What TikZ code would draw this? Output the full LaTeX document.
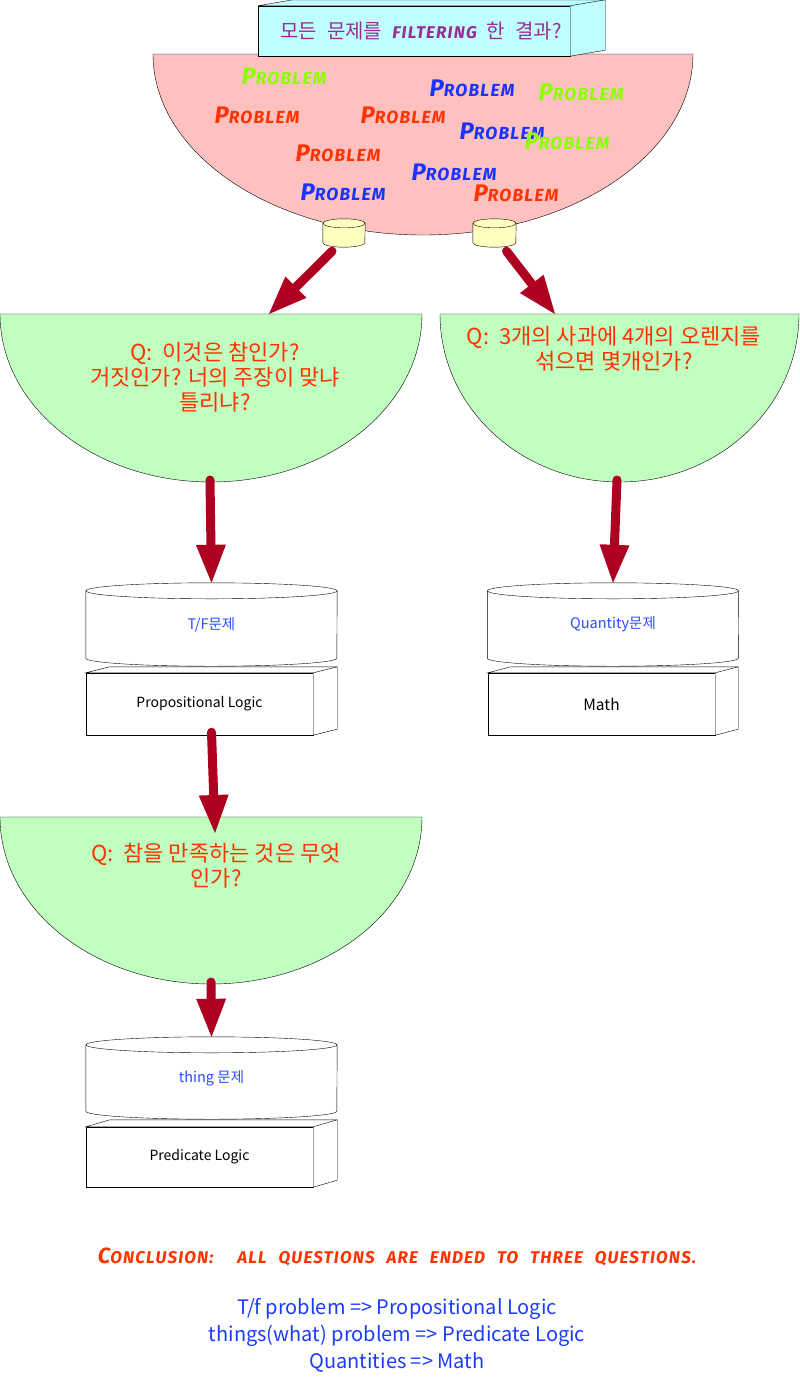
\documentclass[tikz,border=0pt]{standalone}
\usepackage{fontspec}
\setmainfont{Noto Sans CJK KR}
\newfontfamily\comicfont{Fira Sans}[LetterSpace=7]
\usetikzlibrary{calc,arrows.meta,positioning}
\pgfdeclarelayer{bg}
\pgfsetlayers{bg,main}

\definecolor{pinkfill}{HTML}{FFC0C0}
\definecolor{greenfill}{HTML}{C0FFC0}
\definecolor{cyanfill}{HTML}{C0FFFF}
\definecolor{yellowfill}{HTML}{FFFFC0}
\definecolor{arrowred}{HTML}{AE0020}
\definecolor{qred}{HTML}{FF3300}
\definecolor{probred}{HTML}{FF3300}
\definecolor{probblue}{HTML}{1A33FF}
\definecolor{probgreen}{HTML}{8CFF00}
\definecolor{titlepurple}{HTML}{952D95}
\definecolor{labelblue}{HTML}{2B4CFF}
\definecolor{sumblue}{HTML}{1A3CFF}

\newcommand\bigsc{\fontsize{24}{24}\selectfont}
\newcommand\smsc{\fontsize{17.5}{18}\selectfont}

\begin{document}
\begin{tikzpicture}[x=1pt,y=-1pt,line width=.8pt,
    probtext/.style={font=\comicfont\bfseries\itshape,inner sep=0pt},
    qtext/.style={text=qred,align=center,font=\fontsize{22}{25}\selectfont},
    drumtext/.style={text=labelblue,font=\fontsize{14.5}{16}\selectfont,inner sep=0pt},
    facebox/.style={draw,inner sep=0pt,font=\fontsize{14}{16}\selectfont},
    flow/.style={line width=9pt,arrowred,line cap=round,-{Triangle[width=30pt,length=38pt,line width=0pt]}}]

  \useasboundingbox (0,0) rectangle (800,1382);

  % a drum: name, x, top, bottom, half width, rim, fill, label
  \newcommand\tank[8]{
    \node[drumtext,minimum width={2*#5pt},minimum height={(#4-#3)*1pt}] (#1) at ({#2},{(#3+#4)/2}) {\raisebox{-3pt}{#8}};
    \begin{pgfonlayer}{bg}
      \draw[fill=#7] ($(#1.north west)+(0,#6)$) -- ($(#1.south west)+(0,-#6)$)
        arc[start angle=180,end angle=0,x radius=#5,y radius=#6]
        -- ($(#1.north east)+(0,#6)$) -- cycle;
      \draw[fill=#7] ($(#1.north)+(0,#6)$) ellipse[x radius=#5,y radius=#6];
    \end{pgfonlayer}
  }
  % a box with depth: name, x, y, width, height, depth x, depth y, fill, label
  \newcommand\slab[9]{
    \node[facebox,fill=#8,minimum width=#4pt,minimum height=#5pt] (#1) at (#2,#3) {#9};
    \draw[fill=#8] (#1.north west) -- ++(#6,-#7) -- ($(#1.north east)+(#6,-#7)$)
      -- ($(#1.south east)+(#6,-#7)$) -- (#1.south east) -- (#1.north east) -- cycle;
    \draw (#1.north east) -- ++(#6,-#7);
  }

  %% bowls
  \begin{pgfonlayer}{bg}
    \draw[fill=pinkfill] (153,54) arc[start angle=180,end angle=0,x radius=270,y radius=181] -- cycle;
    \draw[fill=greenfill] (0,314) arc[start angle=180,end angle=0,x radius=211,y radius=168] -- cycle;
    \draw[fill=greenfill] (440,314) arc[start angle=180,end angle=0,x radius=179.5,y radius=168] -- cycle;
    \draw[fill=greenfill] (0,817) arc[start angle=180,end angle=0,x radius=211,y radius=167] -- cycle;
  \end{pgfonlayer}

  \coordinate (qtf-top) at (269,314);
  \coordinate (qnum-top) at (555,314);
  \coordinate (qtf-tip) at (210,480);
  \coordinate (qnum-tip) at (617,480);
  \coordinate (qpred-top) at (215,833);
  \coordinate (qpred-tip) at (211,982);

  %% title box
  \slab{title}{414}{31}{312}{50}{35}{6}{cyanfill}{\hspace*{14pt}\fontsize{20}{22}\selectfont\spaceskip=.5em\color{titlepurple}모든 문제를 {\comicfont\bfseries\itshape\fontsize{17}{16}\selectfont FILTERING} 한 결과?}

  %% problems in the bowl
  \foreach \px/\py/\pc [count=\i] in {284/76/probgreen,257/115/probred,403/115/probred,
      472/88/probblue,581/92/probgreen,502/131/probblue,567/141/probgreen,
      338/153/probred,454/172/probblue,343/192/probblue,516/193/probred}{
    \node[probtext,text=\pc] (prob\i) at (\px,\py) {\bigsc P\smsc ROBLEM};
  }

  %% filters
  \tank{filterL}{344}{219}{247}{21}{4.5}{yellowfill}{}
  \tank{filterR}{494.5}{219}{247}{21.5}{4.5}{yellowfill}{}

  %% questions
  \node[qtext] (qtf) at (215,377) {Q:\ \ 이것은 참인가?\\거짓인가? 너의 주장이 맞냐\\틀리냐?};
  \node[qtext] (qnum) at (614,349) {Q:\ \ 3개의 사과에 4개의 오렌지를\\섞으면 몇개인가?};
  \node[qtext] (qpred) at (216,866) {Q:\ \ 참을 만족하는 것은 무엇\\인가?};

  %% answers
  \tank{tf}{211.5}{583}{666}{125.5}{8}{white}{T/F문제}
  \tank{qty}{613}{583}{666}{125.5}{8}{white}{Quantity문제}
  \tank{thing}{211.5}{1037}{1119}{125.5}{8}{white}{thing 문제}
  \slab{prop}{199.5}{704}{227}{62}{24}{6}{white}{Propositional Logic}
  \slab{math}{601.5}{704}{227}{62}{23}{6}{white}{\fontsize{15.5}{17}\selectfont Math}
  \slab{pred}{199.5}{1157}{227}{60}{24}{7}{white}{Predicate Logic}

  %% arrows
  \draw[flow] ($(filterL.south)+(-12,4)$) -- (qtf-top);
  \draw[flow] ($(filterR.south)+(12,4)$) -- (qnum-top);
  \draw[flow] (qtf-tip) -- (tf.north);
  \draw[flow] (qnum-tip) -- (qty.north);
  \draw[flow] ($(prop.south)+(12,-3)$) -- (qpred-top);
  \draw[flow] (qpred-tip) -- (thing.north);

  %% conclusion
  \node[probtext,text=qred] (concl) at (397,1257) {{\fontsize{22}{22}\selectfont C}\fontsize{17}{17}\selectfont\spaceskip=.7em ONCLUSION:\ \ ALL QUESTIONS ARE ENDED TO THREE QUESTIONS.};
  \node[text=sumblue,align=center,font=\fontsize{20}{27}\selectfont] (summary) at (397,1335)
    {T/f problem => Propositional Logic\\things(what) problem => Predicate Logic\\Quantities => Math};

\end{tikzpicture}
\end{document}
